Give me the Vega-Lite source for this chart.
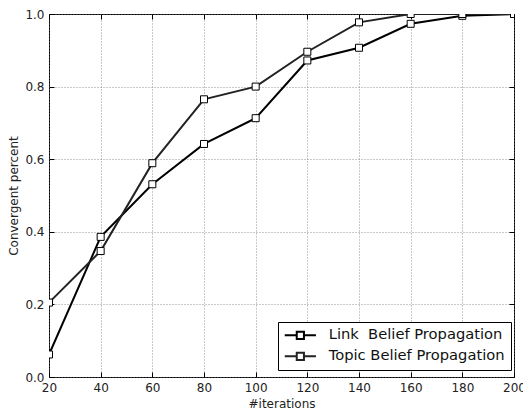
{
  "$schema": "https://vega.github.io/schema/vega-lite/v6.json",
  "width": 465,
  "height": 363,
  "autosize": {"type": "none"},
  "padding": {"left": 49, "top": 14, "right": 9, "bottom": 36},
  "background": "white",
  "config": {
    "font": "DejaVu Sans",
    "view": {"stroke": "black", "strokeWidth": 1},
    "axis": {
      "domain": false,
      "grid": true,
      "gridColor": "#777",
      "gridDash": [1, 2],
      "gridWidth": 0.8,
      "tickColor": "black",
      "tickSize": -5,
      "tickWidth": 1,
      "labelFont": "DejaVu Sans",
      "labelFontSize": 12,
      "labelColor": "#222",
      "titleFont": "DejaVu Sans",
      "titleFontSize": 12,
      "titleFontWeight": "normal",
      "titleColor": "#222"
    }
  },
  "data": {
    "values": [
      {"iter": 20, "pct": 0.062, "series": "Link\u00a0 Belief Propagation"},
      {"iter": 40, "pct": 0.386, "series": "Link\u00a0 Belief Propagation"},
      {"iter": 60, "pct": 0.531, "series": "Link\u00a0 Belief Propagation"},
      {"iter": 80, "pct": 0.642, "series": "Link\u00a0 Belief Propagation"},
      {"iter": 100, "pct": 0.713, "series": "Link\u00a0 Belief Propagation"},
      {"iter": 120, "pct": 0.872, "series": "Link\u00a0 Belief Propagation"},
      {"iter": 140, "pct": 0.907, "series": "Link\u00a0 Belief Propagation"},
      {"iter": 160, "pct": 0.973, "series": "Link\u00a0 Belief Propagation"},
      {"iter": 180, "pct": 0.995, "series": "Link\u00a0 Belief Propagation"},
      {"iter": 200, "pct": 1.0, "series": "Link\u00a0 Belief Propagation"},
      {"iter": 20, "pct": 0.205, "series": "Topic Belief Propagation"},
      {"iter": 40, "pct": 0.347, "series": "Topic Belief Propagation"},
      {"iter": 60, "pct": 0.589, "series": "Topic Belief Propagation"},
      {"iter": 80, "pct": 0.765, "series": "Topic Belief Propagation"},
      {"iter": 100, "pct": 0.8, "series": "Topic Belief Propagation"},
      {"iter": 120, "pct": 0.896, "series": "Topic Belief Propagation"},
      {"iter": 140, "pct": 0.977, "series": "Topic Belief Propagation"},
      {"iter": 160, "pct": 1.0, "series": "Topic Belief Propagation"},
      {"iter": 180, "pct": 1.0, "series": "Topic Belief Propagation"},
      {"iter": 200, "pct": 1.0, "series": "Topic Belief Propagation"}
    ]
  },
  "layer": [
    {
      "mark": {"type": "line", "strokeWidth": 2, "clip": true},
      "encoding": {
        "x": {"field": "iter", "type": "quantitative", "scale": {"domain": [20, 200], "nice": false, "zero": false},
              "axis": {"orient": "bottom", "title": "#iterations", "values": [20,40,60,80,100,120,140,160,180,200], "labelPadding": 10, "labelFlush": false, "titlePadding": 5}},
        "y": {"field": "pct", "type": "quantitative", "scale": {"domain": [0, 1], "nice": false},
              "axis": {"orient": "left", "title": "Convergent percent", "values": [0,0.2,0.4,0.6,0.8,1.0], "format": ".1f", "labelPadding": 10, "labelFlush": false, "titlePadding": 4}},
        "color": {"field": "series", "type": "nominal",
                  "scale": {"domain": ["Link\u00a0 Belief Propagation", "Topic Belief Propagation"], "range": ["#000000", "#222222"]},
                  "legend": {
                    "orient": "none", "legendX": 229, "legendY": 308,
                    "title": null,
                    "symbolType": "M-2.6,0H-0.6M0.6,0H2.6M-0.6,-0.6H0.6V0.6H-0.6Z",
                    "symbolSize": 144,
                    "symbolStrokeWidth": 2,
                    "symbolFillColor": "white",
                    "symbolOffset": 9,
                    "labelFontSize": 14.7,
                    "labelFont": "DejaVu Sans",
                    "labelColor": "#111",
                    "labelOffset": 21,
                    "labelLimit": 400,
                    "rowPadding": 5,
                    "padding": 6,
                    "strokeColor": "black",
                    "fillColor": "white"
                  }}
      }
    },
    {
      "mark": {"type": "point", "shape": "square", "filled": true, "fill": "white", "stroke": "black", "strokeWidth": 1, "size": 49, "opacity": 1, "clip": true},
      "encoding": {
        "x": {"field": "iter", "type": "quantitative",
              "axis": {"orient": "top", "labels": false, "title": null, "grid": false, "values": [20,40,60,80,100,120,140,160,180,200]}},
        "y": {"field": "pct", "type": "quantitative",
              "axis": {"orient": "right", "labels": false, "title": null, "grid": false, "values": [0,0.2,0.4,0.6,0.8,1.0]}},
        "detail": {"field": "series", "type": "nominal"}
      }
    }
  ],
  "resolve": {"axis": {"x": "independent", "y": "independent"}}
}
